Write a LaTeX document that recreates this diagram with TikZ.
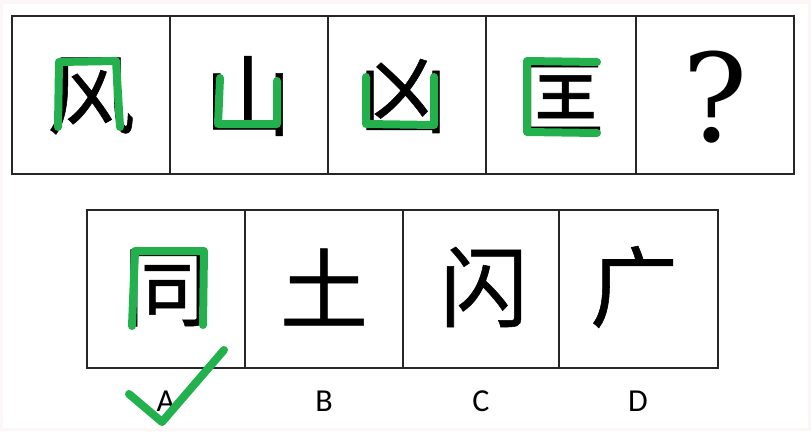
\documentclass[tikz,border=0pt]{standalone}
\usepackage{fontspec}
\newfontfamily\cjk[FakeBold=0.6]{Noto Sans CJK SC}
\newfontfamily\lbl{Carlito}
\newfontfamily\qfont{DejaVu Serif}
\definecolor{tickgreen}{RGB}{34,177,76}
\definecolor{pagepink}{RGB}{253,246,246}

\begin{document}
\begin{tikzpicture}[x=1pt,y=-1pt,
  frame/.style={draw=black!85,line width=2pt},
  glyph/.style={font=\cjk\fontsize{88}{88}\selectfont\addfontfeature{FakeBold=0.6},inner sep=0pt},
  pen/.style={tickgreen,line width=8pt,line cap=round,line join=round},
  letter/.style={font=\lbl\fontsize{32}{32}\selectfont,inner sep=0pt,anchor=base}]
  \useasboundingbox (0,0) rectangle (811,431);
  \fill[pagepink] (0,0) rectangle (811,431);
  \fill[white] (3,4) rectangle (808,428);
  % Question row
  \draw[frame] (12,16) rectangle (794,174);
  \foreach \x in {170,328,486,636} \draw[frame] (\x,16) -- (\x,174);
  \node[glyph] (feng)  at (91,96)  {风};
  \node[glyph] (shan)  at (248,96) {山};
  \node[glyph] (xiong) at (403,96) {凶};
  \node[glyph] (kuang) at (560,97) {匡};
  \node[inner sep=0pt,font=\qfont\fontsize{122}{122}\selectfont] (qmark) at (715,97) {?};
  % green traces over the question row
  \draw[pen] (58,127) -- (59,62) -- (116,61) -- (120,127);
  \draw[pen] (220,78) -- (218,124) -- (277,124) -- (277,81);
  \draw[pen] (366,77) -- (366,124) -- (434,125) -- (434,77);
  \draw[pen] (597,62) -- (527,61) -- (527,132) -- (597,133);
  % Answer row
  \draw[frame] (87,210) rectangle (718,368);
  \foreach \x in {245,403,559} \draw[frame] (\x,210) -- (\x,368);
  \node[glyph] (tong)  at (167,288) {同};
  \node[glyph] (tu)    at (324,287) {土};
  \node[glyph] (shanC) at (484,287) {闪};
  \node[glyph] (guang) at (634,287) {广};
  \draw[pen] (132,326) -- (135,251) -- (204,251) -- (203,325);
  % Labels
  \node[letter] (la) at (166,411) {A};
  \node[letter] (lb) at (324,411) {B};
  \node[letter] (lc) at (481,411) {C};
  \node[letter] (ld) at (638,411) {D};
  \draw[pen] (129,394) -- (162,422) -- (224,350);
\end{tikzpicture}
\end{document}
